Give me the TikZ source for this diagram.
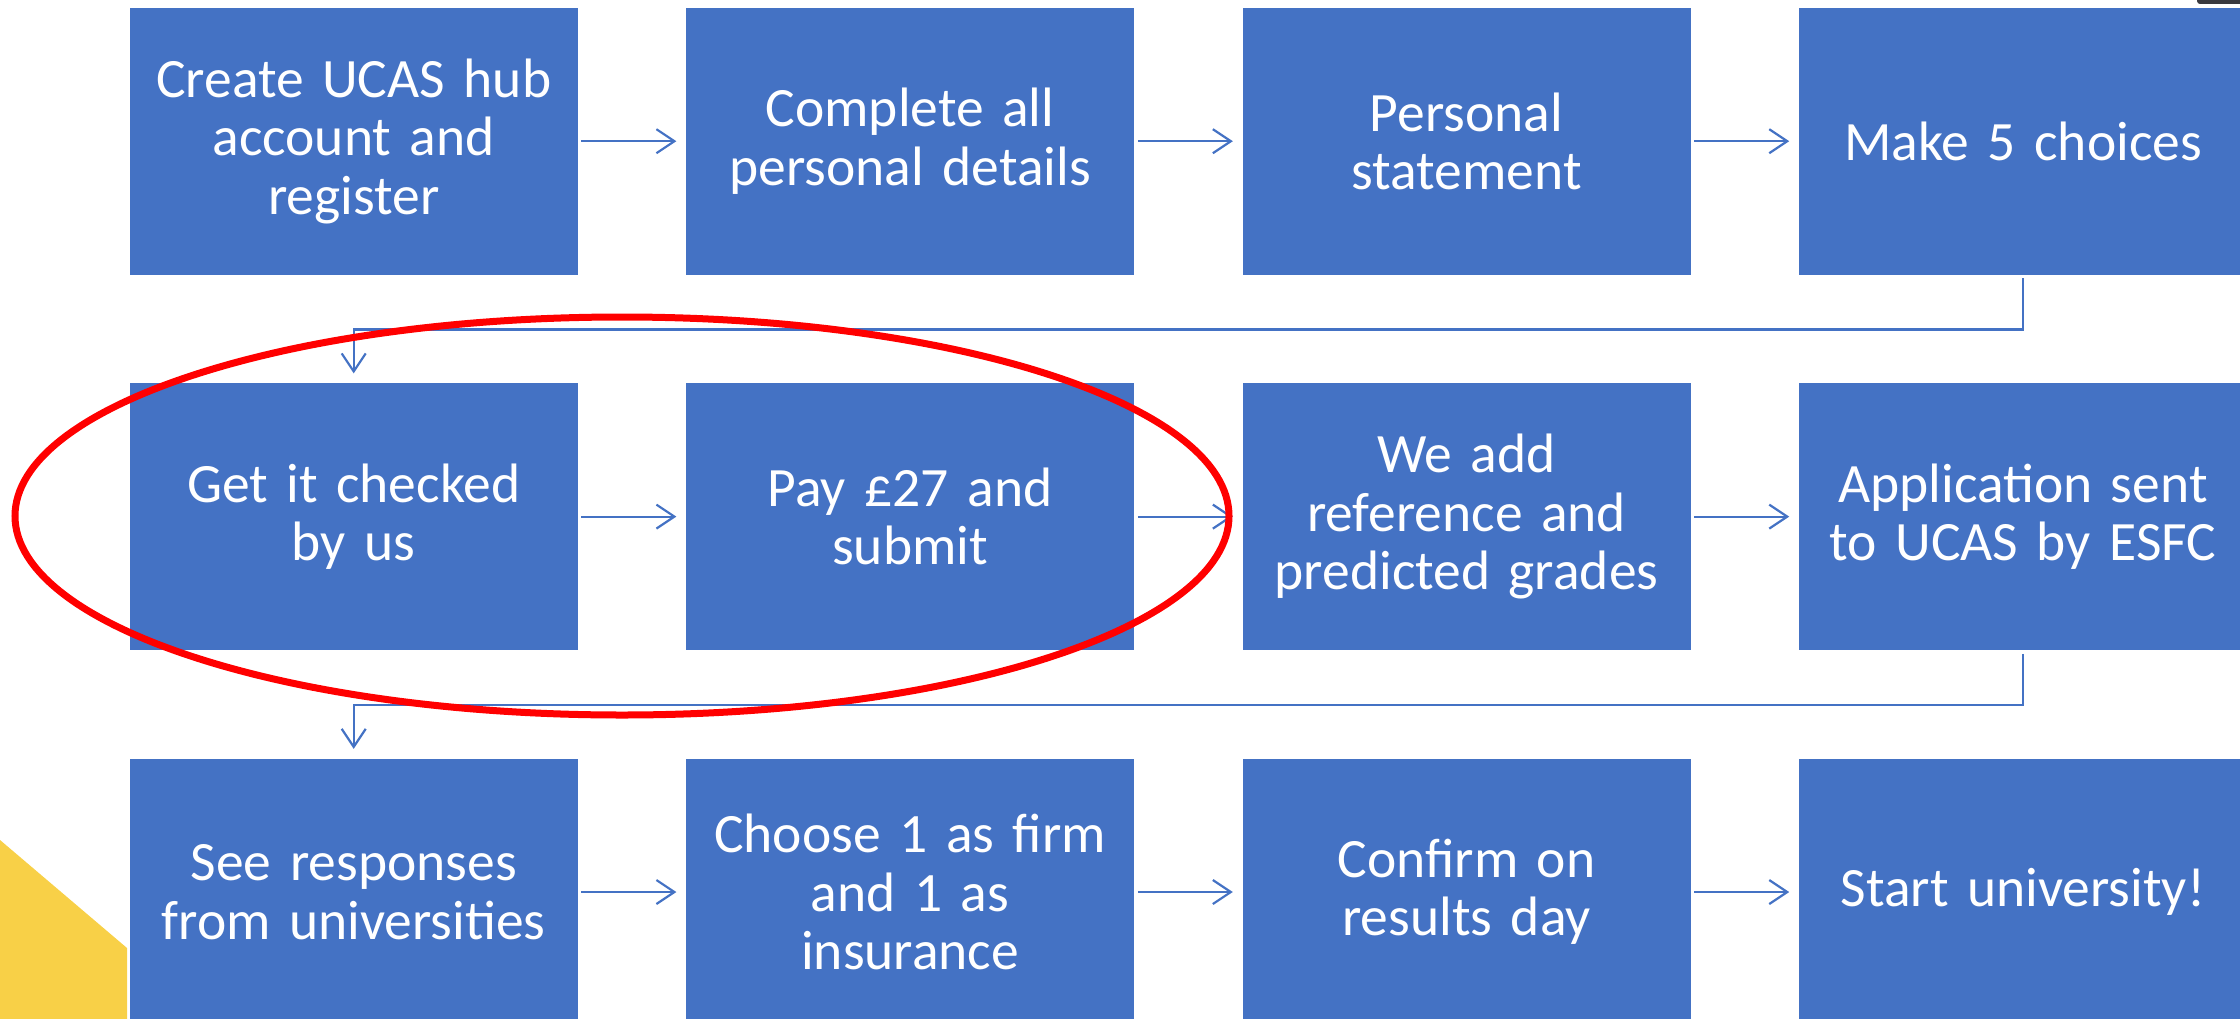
\documentclass[tikz,border=0pt]{standalone}
\usepackage{fontspec}
\setmainfont[WordSpace=0.8]{Carlito}
\usetikzlibrary{arrows.meta,positioning}
\definecolor{ucasblue}{HTML}{4472C4}
\definecolor{ringred}{HTML}{FF0000}
\definecolor{cornergold}{HTML}{F8D047}
\definecolor{tabgrey}{HTML}{3A3A3F}

\begin{document}
\begin{tikzpicture}[
    font=\fontsize{15.8}{16.6}\selectfont,
    box/.style={fill=ucasblue, text=white, align=center, text width=4.4cm,
      minimum width=4.48cm, minimum height=2.67cm, inner sep=0pt},
    arrow/.style={-{Straight Barb[length=1.8mm, width=2.4mm]}, draw=ucasblue,
      line width=0.022cm, shorten >=0.09cm, shorten <=0.03cm},
    node distance=1.07cm and 1.07cm
  ]
    \useasboundingbox (0,0) rectangle (22.40,-10.19);
    \fill[cornergold] (0,-8.40) -- (1.27,-9.48) -- (1.27,-10.19) -- (0,-10.19) -- cycle;
    \fill[tabgrey, rounded corners=0.03cm] (21.97,0.05) rectangle (22.45,-0.04);
    % first row
    \node[box, anchor=north west] (create) at (1.29,-0.07) {Create UCAS hub\\account and\\register};
    \node[box, right=of create] (details) {Complete all\\personal details};
    \node[box, right=of details] (statement) {Personal\\statement};
    \node[box, right=of statement] (choices) {Make 5 choices};
    % second row
    \node[box, below=of create] (check) {Get it checked\\by us};
    \node[box, right=of check] (pay) {Pay £27 and\\submit};
    \node[box, right=of pay] (reference) {We add\\reference and\\predicted grades};
    \node[box, right=of reference] (sent) {Application sent\\to UCAS by ESFC};
    % third row
    \node[box, below=of check] (responses) {See responses\\from universities};
    \node[box, right=of responses] (choose) {Choose 1 as firm\\and 1 as\\insurance};
    \node[box, right=of choose] (confirm) {Confirm on\\results day};
    \node[box, right=of confirm] (start) {Start university!};
    \draw[arrow] (create) -- (details);
    \draw[arrow] (details) -- (statement);
    \draw[arrow] (statement) -- (choices);
    \draw[arrow] (choices.south) -- ++(0,-0.54) -| (check.north);
    \draw[arrow] (check) -- (pay);
    \draw[arrow] (pay) -- (reference);
    \draw[arrow] (reference) -- (sent);
    \draw[arrow] (sent.south) -- ++(0,-0.54) -| (responses.north);
    \draw[arrow] (responses) -- (choose);
    \draw[arrow] (choose) -- (confirm);
    \draw[arrow] (confirm) -- (start);
    % highlight round the two college steps
    \draw[ringred, line width=0.07cm] (6.22,-5.16) ellipse [x radius=6.07, y radius=1.99];
  \end{tikzpicture}
\end{document}
